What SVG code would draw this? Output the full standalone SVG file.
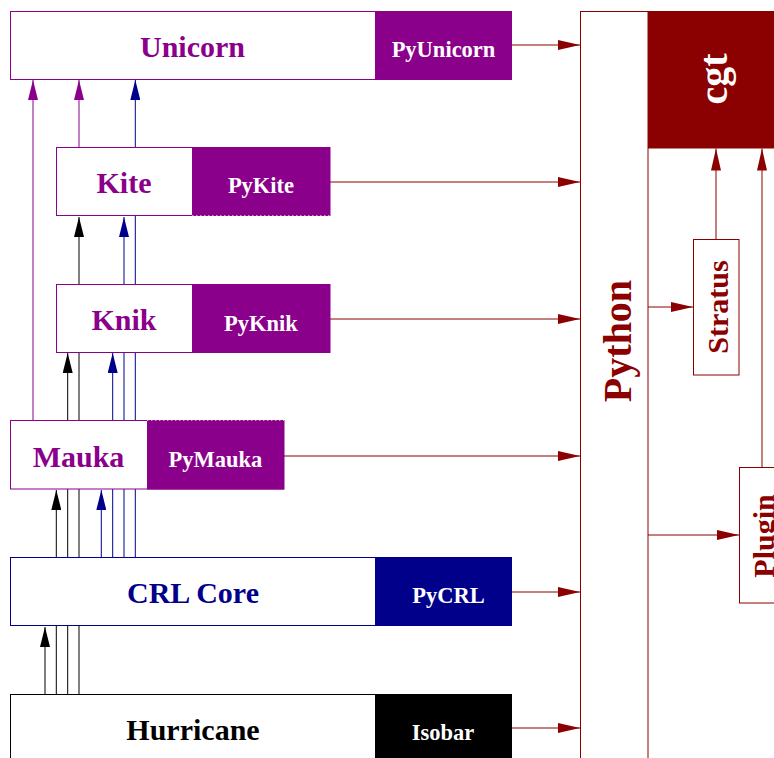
<svg xmlns="http://www.w3.org/2000/svg" width="774" height="758" viewBox="0 0 774 758">
<style>
text{font-family:"Liberation Serif","Times New Roman",serif;font-weight:bold;text-anchor:middle}
.big{font-size:30px}
.sm{font-size:22.5px;fill:#fff}
.pu{stroke:#8b008b;fill:none;stroke-width:1}
.nv{stroke:#00008b;fill:none;stroke-width:1}
.bk{stroke:#000;fill:none;stroke-width:1}
.rd{stroke:#8b0000;fill:none;stroke-width:1}
</style>
<defs>
<marker id="ap" markerUnits="userSpaceOnUse" markerWidth="21" markerHeight="10" refX="20" refY="5" orient="auto"><path d="M0,0L20,5L0,10z" fill="#8b008b"/></marker>
<marker id="an" markerUnits="userSpaceOnUse" markerWidth="21" markerHeight="10" refX="20" refY="5" orient="auto"><path d="M0,0L20,5L0,10z" fill="#00008b"/></marker>
<marker id="ak" markerUnits="userSpaceOnUse" markerWidth="21" markerHeight="10" refX="20" refY="5" orient="auto"><path d="M0,0L20,5L0,10z" fill="#000"/></marker>
<marker id="ar" markerUnits="userSpaceOnUse" markerWidth="23" markerHeight="10" refX="22" refY="5" orient="auto"><path d="M0,0L22,5L0,10z" fill="#8b0000"/></marker>
</defs>
<g id="connectors">
<line class="pu" x1="33" y1="421" x2="33" y2="80" marker-end="url(#ap)"/>
<line class="pu" x1="79" y1="147" x2="79" y2="80" marker-end="url(#ap)"/>
<line class="nv" x1="135.3" y1="558" x2="135.3" y2="80" marker-end="url(#an)"/>
<line class="nv" x1="124" y1="558" x2="124" y2="217" marker-end="url(#an)"/>
<line class="nv" x1="112.7" y1="558" x2="112.7" y2="353" marker-end="url(#an)"/>
<line class="nv" x1="101.3" y1="558" x2="101.3" y2="490" marker-end="url(#an)"/>
<line class="bk" x1="79" y1="694" x2="79" y2="217" marker-end="url(#ak)"/>
<line class="bk" x1="67.7" y1="694" x2="67.7" y2="353" marker-end="url(#ak)"/>
<line class="bk" x1="56.3" y1="694" x2="56.3" y2="490" marker-end="url(#ak)"/>
<line class="bk" x1="45" y1="694" x2="45" y2="627" marker-end="url(#ak)"/>
<line class="rd" x1="512" y1="45" x2="580" y2="45" marker-end="url(#ar)"/>
<line class="rd" x1="330" y1="182" x2="580" y2="182" marker-end="url(#ar)"/>
<line class="rd" x1="330" y1="319" x2="580" y2="319" marker-end="url(#ar)"/>
<line class="rd" x1="284" y1="456" x2="580" y2="456" marker-end="url(#ar)"/>
<line class="rd" x1="512" y1="592" x2="580" y2="592" marker-end="url(#ar)"/>
<line class="rd" x1="512" y1="728" x2="580" y2="728" marker-end="url(#ar)"/>
<line class="rd" x1="648" y1="307" x2="693" y2="307" marker-end="url(#ar)"/>
<line class="rd" x1="648" y1="535" x2="739" y2="535" marker-end="url(#ar)"/>
<line class="rd" x1="716" y1="239" x2="716" y2="148.5" marker-end="url(#ar)"/>
<line class="rd" x1="762" y1="467" x2="762" y2="148.5" marker-end="url(#ar)"/>
</g>
<g id="unicorn">
<rect x="10.5" y="11.5" width="501" height="68" fill="#fff" stroke="#8b008b"/>
<rect x="375" y="11" width="137" height="69" fill="#8b008b"/>
<text class="big" x="192.5" y="57" fill="#8b008b">Unicorn</text>
<text class="sm" x="443.5" y="57">PyUnicorn</text>
</g>
<g id="kite">
<rect x="56.5" y="147.5" width="273.5" height="68" fill="#fff" stroke="#8b008b"/>
<rect x="192" y="147" width="138" height="68.5" fill="#8b008b"/>
<line x1="192" y1="215.5" x2="330" y2="215.5" stroke="#fff" stroke-width="1" stroke-dasharray="1.5 2.5" opacity="0.6"/>
<text class="big" x="124" y="193" fill="#8b008b">Kite</text>
<text class="sm" x="261" y="193">PyKite</text>
</g>
<g id="knik">
<rect x="56.5" y="284.5" width="273.5" height="68" fill="#fff" stroke="#8b008b"/>
<rect x="192" y="284" width="138" height="69" fill="#8b008b"/>
<text class="big" x="124" y="330" fill="#8b008b">Knik</text>
<text class="sm" x="261" y="330.5">PyKnik</text>
</g>
<g id="mauka">
<rect x="10.5" y="420.5" width="273.5" height="68.5" fill="#fff" stroke="#8b008b"/>
<rect x="147" y="420" width="137" height="69.5" fill="#8b008b"/>
<line x1="147" y1="420.5" x2="284" y2="420.5" stroke="#fff" stroke-width="1" stroke-dasharray="1.5 2.5" opacity="0.6"/>
<text class="big" x="78.5" y="466.5" fill="#8b008b">Mauka</text>
<text class="sm" x="215.5" y="466.5">PyMauka</text>
</g>
<g id="crlcore">
<rect x="10.5" y="557.5" width="501" height="68" fill="#fff" stroke="#00008b"/>
<rect x="375" y="557" width="137" height="69" fill="#00008b"/>
<text class="big" x="193" y="603" fill="#00008b">CRL Core</text>
<text class="sm" x="448.5" y="603">PyCRL</text>
</g>
<g id="hurricane">
<rect x="10.5" y="694.5" width="501" height="70" fill="#fff" stroke="#000"/>
<rect x="375" y="694" width="137" height="70" fill="#000"/>
<text class="big" x="193" y="740" fill="#000">Hurricane</text>
<text class="sm" x="443" y="740">Isobar</text>
</g>
<g id="python">
<rect x="580.5" y="11.5" width="67.5" height="760" fill="none" stroke="#8b0000"/>
<text transform="translate(631,341) rotate(-90)" style="font-size:40px" fill="#8b0000">Python</text>
</g>
<g id="cgt">
<rect x="648" y="11" width="140" height="137.5" fill="#8b0000"/>
<text transform="translate(727,79) rotate(-90)" style="font-size:40px" fill="#fff">cgt</text>
</g>
<g id="stratus">
<rect x="693.5" y="239.5" width="45.5" height="135.5" fill="#fff" stroke="#8b0000"/>
<text class="big" transform="translate(728,307) rotate(-90)" fill="#8b0000">Stratus</text>
</g>
<g id="plugin">
<rect x="739.5" y="467.5" width="50" height="135.5" fill="#fff" stroke="#8b0000"/>
<text class="big" transform="translate(773.5,536) rotate(-90)" fill="#8b0000">Plugin</text>
</g>
</svg>
